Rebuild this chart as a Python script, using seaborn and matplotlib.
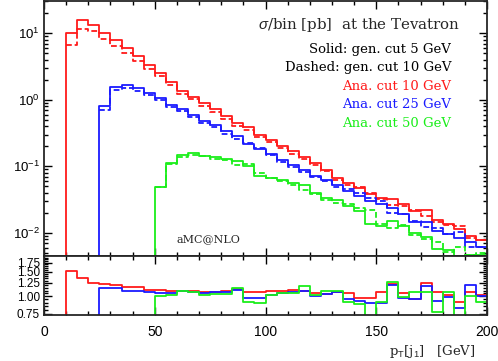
import numpy as np
import pandas as pd
import seaborn as sns
import matplotlib.pyplot as plt
from matplotlib.ticker import FixedLocator, NullFormatter, LogLocator, MultipleLocator

# pT(j1) histograms, 5 GeV bins, sigma/bin [pb]
edges = np.arange(0, 205, 5)
cuts = [10, 25, 50]
colors = ['#ff1a1a', '#1a1aff', '#1aee1a']
labels = ['Ana. cut 10 GeV', 'Ana. cut 25 GeV', 'Ana. cut 50 GeV']

# solid = gen. cut 5 GeV
red_solid = [10.2, 15.8, 13.5, 10.0, 7.9, 5.96, 4.5, 3.3, 2.55, 1.85,
             1.35, 1.12, 0.88, 0.72, 0.57, 0.45, 0.385, 0.30, 0.25, 0.205,
             0.17, 0.14, 0.112, 0.088, 0.068, 0.056, 0.047, 0.039, 0.034, 0.032,
             0.027, 0.021, 0.022, 0.0158, 0.0134, 0.0115, 0.0089, 0.0079]
blue_solid = [0.82, 1.58, 1.66, 1.50, 1.27, 1.05, 0.84, 0.73, 0.59, 0.48,
              0.42, 0.335, 0.29, 0.215, 0.18, 0.155, 0.123, 0.106, 0.089, 0.071,
              0.063, 0.053, 0.043, 0.036, 0.030, 0.027, 0.024, 0.019, 0.0145, 0.0148,
              0.0108, 0.0095, 0.0085, 0.0073, 0.0062]
green_solid = [0.049, 0.112, 0.150, 0.159, 0.145, 0.136, 0.130, 0.119, 0.100, 0.071,
               0.068, 0.063, 0.056, 0.052, 0.040, 0.034, 0.031, 0.025, 0.021, 0.0135,
               0.0125, 0.0150, 0.0129, 0.0100, 0.0088, 0.0057, 0.0055, 0.0038, 0.0047, 0.0046]

# ratio solid / dashed (dashed = gen. cut 10 GeV)
red_ratio = [1.52, 1.35, 1.25, 1.22, 1.21, 1.17, 1.16, 1.12, 1.11, 1.10,
             1.09, 1.09, 1.08, 1.08, 1.09, 1.13, 1.08, 1.08, 1.09, 1.09,
             1.12, 1.09, 1.06, 1.04, 1.08, 1.05, 0.97, 0.98, 1.07, 1.23,
             1.05, 0.95, 1.24, 1.07, 1.02, 0.91, 1.07, 1.02]
blue_ratio = [1.15, 1.14, 1.10, 1.09, 1.07, 1.06, 1.06, 1.09, 1.07, 1.06,
              1.07, 1.08, 1.11, 0.97, 0.97, 1.03, 1.05, 1.07, 1.10, 1.01,
              1.04, 1.08, 0.95, 0.92, 0.90, 0.90, 1.20, 0.98, 0.95, 1.19,
              0.92, 0.99, 0.83, 1.20, 1.01]
green_ratio = [1.01, 1.02, 1.10, 1.08, 1.03, 1.04, 1.04, 1.15, 0.91, 0.90,
               1.03, 1.06, 1.06, 1.18, 1.03, 1.09, 1.10, 0.91, 0.88, 0.62,
               0.91, 1.26, 0.99, 1.08, 1.08, 0.77, 1.08, 0.62, 1.01, 0.91]

solids = [red_solid, blue_solid, green_solid]
ratios = [red_ratio, blue_ratio, green_ratio]


def steps(cut, vals, floor=None):
    x = list(edges[edges >= cut])
    y = list(vals) + [vals[-1]]
    if floor is not None:
        x = [cut] + x
        y = [floor] + y
    return pd.DataFrame({'x': x, 'y': y})


sns.set_style("ticks")
plt.rcParams['font.family'] = ['Liberation Sans', 'DejaVu Sans']
plt.rcParams['mathtext.fontset'] = 'custom'
plt.rcParams['mathtext.rm'] = 'Liberation Sans'
plt.rcParams['mathtext.it'] = 'Liberation Sans:italic'

W, H = 498, 361
fig = plt.figure(figsize=(W / 100, H / 100), dpi=100)
ax = fig.add_axes([44 / W, 1 - 256 / H, 443 / W, 255 / H])
axr = fig.add_axes([44 / W, 1 - 315 / H, 443 / W, 59 / H], sharex=ax)

ax.set_yscale('log')
axr.set_yscale('log')

for cut, sol, rat, c in zip(cuts, solids, ratios, colors):
    dashed = [s / r for s, r in zip(sol, rat)]
    sns.lineplot(data=steps(cut, sol, 1e-4), x='x', y='y', drawstyle='steps-post',
                 estimator=None, sort=False, color=c, lw=1.3, ax=ax)
    sns.lineplot(data=steps(cut, dashed), x='x', y='y', drawstyle='steps-post',
                 estimator=None, sort=False, color=c, lw=1.3, ls=(0, (3.2, 1.6)), ax=ax)
    sns.lineplot(data=steps(cut, rat, 0.3), x='x', y='y', drawstyle='steps-post',
                 estimator=None, sort=False, color=c, lw=1.3, ax=axr)

ax.set_xlim(0, 200)
ax.set_ylim(0.0045, 30.5)
axr.set_ylim(0.735, 1.95)

for a in (ax, axr):
    a.set_xlabel('')
    a.set_ylabel('')
    for s in a.spines.values():
        s.set_linewidth(1.3)
        s.set_visible(True)
    a.tick_params(which='both', direction='in', top=True, right=True, width=1.0, colors='black')
    a.tick_params(which='major', length=5.5)
    a.tick_params(which='minor', length=3)
    a.xaxis.set_major_locator(MultipleLocator(50))
    a.xaxis.set_minor_locator(MultipleLocator(10))

ax.yaxis.set_major_locator(LogLocator(base=10, numticks=10))
ax.yaxis.set_minor_locator(LogLocator(base=10, subs=np.arange(2, 10), numticks=10))
ax.yaxis.set_minor_formatter(NullFormatter())
ax.tick_params(axis='x', labelbottom=False)
ax.tick_params(axis='y', labelsize=9.5, pad=3)

axr.yaxis.set_major_locator(FixedLocator([0.75, 1.0, 1.25, 1.5, 1.75]))
axr.yaxis.set_minor_locator(FixedLocator(np.arange(0.8, 1.95, 0.05)))
axr.set_yticklabels(['0.75', '1.00', '1.25', '1.50', '1.75'])
axr.yaxis.set_minor_formatter(NullFormatter())
axr.tick_params(axis='y', labelsize=8.5, pad=3)
axr.tick_params(axis='x', labelsize=10, pad=7)

serif = ['DejaVu Serif']
fig.text(258 / W, 1 - 25 / H, r'$\sigma$/bin [pb]  at the Tevatron', family=serif,
         fontsize=10.8, ha='left', va='center')
rows = [('Solid: gen. cut 5 GeV', 'black', 49), ('Dashed: gen. cut 10 GeV', 'black', 67)]
rows += [(lab, c, y) for lab, c, y in zip(labels, colors, [86, 104, 123])]
for txt, c, y in rows:
    fig.text(451 / W, 1 - y / H, txt, family=serif, fontsize=9.5, color=c,
             ha='right', va='center')
fig.text(208 / W, 1 - 239 / H, 'aMC@NLO', family=serif, fontsize=8, ha='center', va='center')
fig.text(432 / W, 1 - 352 / H, r'p$_\mathrm{T}$[j$_1$]   [GeV]', family=serif,
         fontsize=9.5, ha='center', va='center')

fig.savefig('out.png', dpi=100)
